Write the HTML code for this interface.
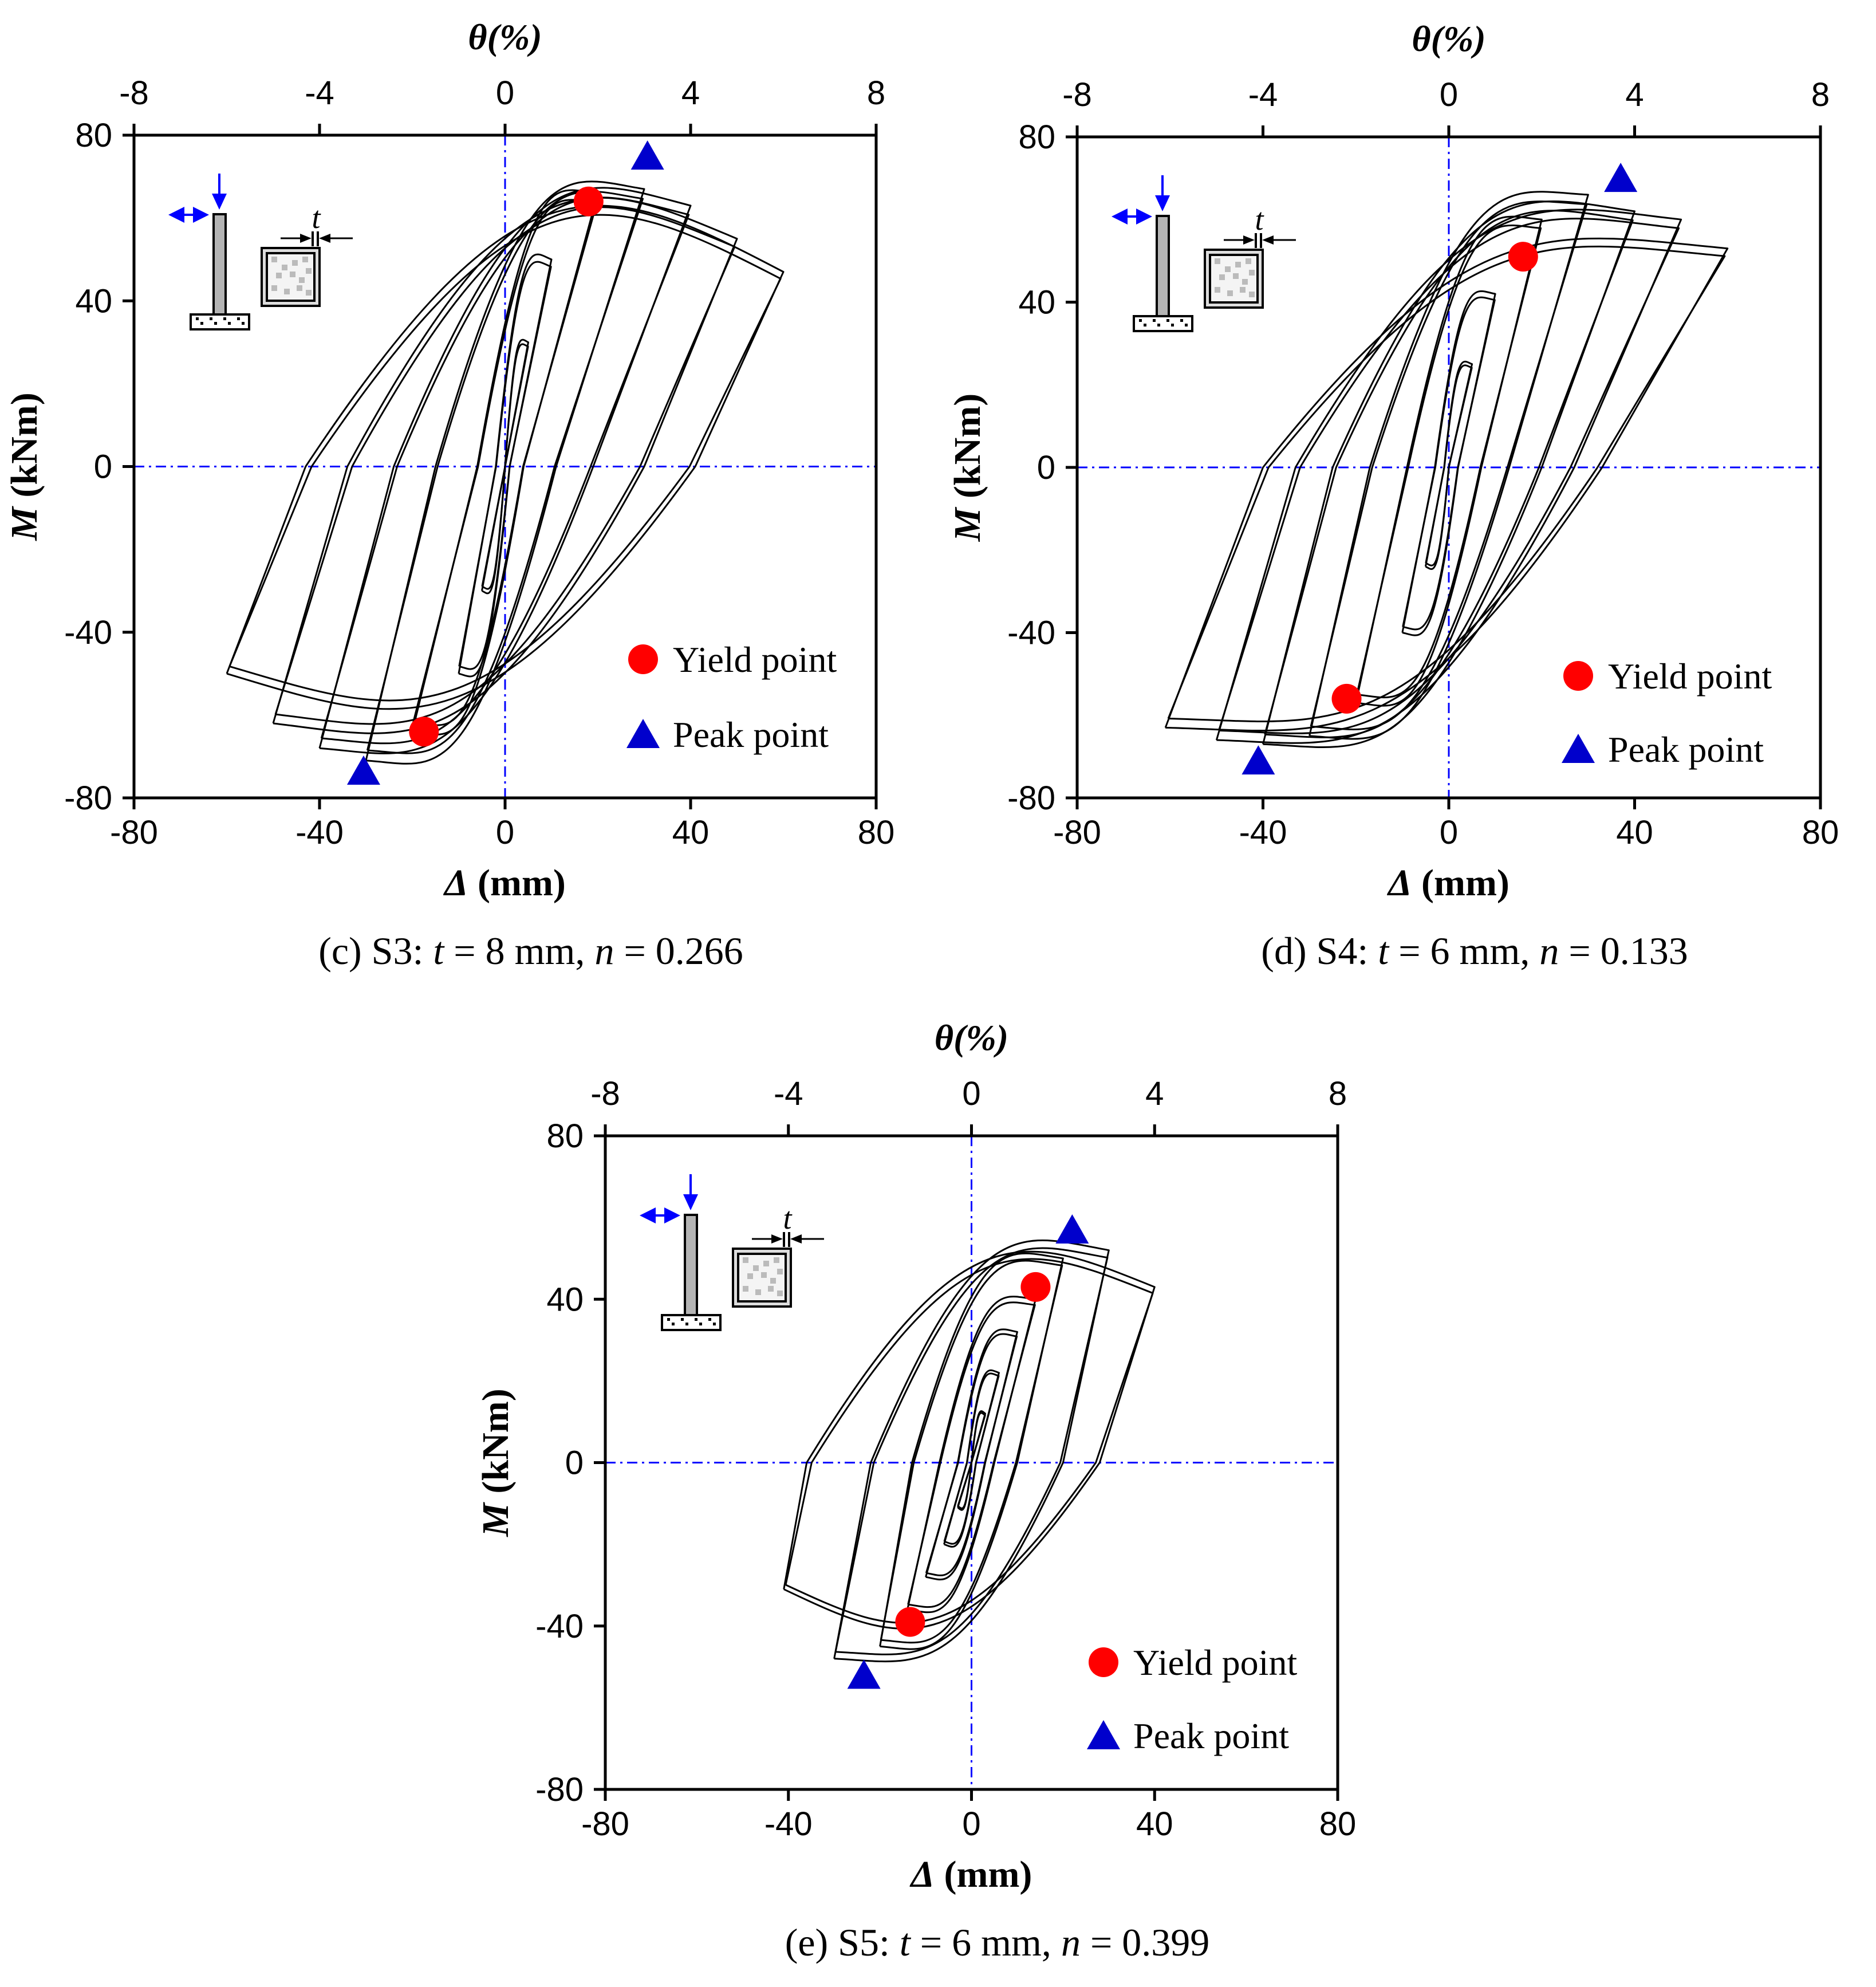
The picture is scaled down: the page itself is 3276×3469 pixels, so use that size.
<!DOCTYPE html>
<html><head><meta charset="utf-8">
<style>
html,body{margin:0;padding:0;background:#fff;}
svg{display:block;}
</style></head>
<body>
<svg id="fig" xmlns="http://www.w3.org/2000/svg" width="3276" height="3469" viewBox="0 0 3276 3469">
<rect x="0" y="0" width="3276" height="3469" fill="#fff"/>
</svg>
<script>
// ---------- data: panel c (S3) ----------
const cPosAmp=[60,50,40,30,20,10,5];
const cPosEndM=[47,55,63,67,66,50,30];
const cPosPlat=[70,70,70,70,67,52,31];
const cPosZero=[41,30,19,11,4,1,0];
const cNegAmp=[-60,-50,-40,-30,-20,-10,-5];
const cNegEndM=[-50,-62,-68,-71,-64,-50,-30];
const cNegPlat=[-63,-66,-70,-72,-65,-51,-31];
const cNegZero=[-43,-34,-24,-15,-6,-2,0];
const cYield=[[18,64],[-17.5,-64]];
const cPeak=[[30.7,75],[-30.5,-73.5]];
// ---------- data: panel d (S4) ----------
const dPosAmp=[60,50,40,30,20,10,5];
const dPosEndM=[53,60,62,66,60,42,25];
const dPosPlat=[57,64,66,67,61,43,26];
const dPosZero=[33,27,20,13,7,2,0];
const dNegAmp=[-61,-50,-40,-30,-20,-10,-5];
const dNegEndM=[-63,-66,-67,-65,-57,-40,-24];
const dNegPlat=[-64,-67,-68,-66,-58,-41,-25];
const dNegZero=[-40,-33,-25,-17,-9,-3,-1];
const dYield=[[16,51],[-22,-56]];
const dPeak=[[37,70],[-41,-71]];
// ---------- data: panel e (S5) ----------
const ePosAmp=[40,30,20,14,10,6,3];
const ePosEndM=[43,52,50,40,32,22,12];
const ePosPlat=[56,56,52,41,33,23,13];
const ePosZero=[28,20,10,5,3,1,0];
const eNegAmp=[-41,-30,-20,-14,-10,-6,-3];
const eNegEndM=[-31,-48,-45,-36,-28,-20,-11];
const eNegPlat=[-45,-49,-46,-37,-29,-21,-12];
const eNegZero=[-36,-22,-13,-7,-3,-1,0];
const eYield=[[14,43],[-13.4,-39]];
const ePeak=[[22,57],[-23.5,-52]];
// ---------- tick labels ----------
const xTicks=[-80,-40,0,40,80];
const yTicks=[80,40,0,-40,-80];
const thetaTicks=[-8,-4,0,4,8];

const NS='http://www.w3.org/2000/svg';
const svg=document.getElementById('fig');
function el(tag,attrs,parent){const e=document.createElementNS(NS,tag);for(const k in attrs)e.setAttribute(k,attrs[k]);(parent||svg).appendChild(e);return e;}

const panels=[
 {id:'c',L:234,T:236,R:1530,B:1393,
  posAmp:cPosAmp,posEndM:cPosEndM,posPlat:cPosPlat,posZero:cPosZero,
  negAmp:cNegAmp,negEndM:cNegEndM,negPlat:cNegPlat,negZero:cNegZero,
  yld:cYield,pk:cPeak,leg:[1123,1151,1282],caption:['(c) S3: ','t',' = 8 mm, ','n',' = 0.266']},
 {id:'d',L:1881,T:239,R:3179,B:1393,
  posAmp:dPosAmp,posEndM:dPosEndM,posPlat:dPosPlat,posZero:dPosZero,
  negAmp:dNegAmp,negEndM:dNegEndM,negPlat:dNegPlat,negZero:dNegZero,
  yld:dYield,pk:dPeak,leg:[2756,1180,1308],caption:['(d) S4: ','t',' = 6 mm, ','n',' = 0.133']},
 {id:'e',L:1057,T:1983,R:2336,B:3124,
  posAmp:ePosAmp,posEndM:ePosEndM,posPlat:ePosPlat,posZero:ePosZero,
  negAmp:eNegAmp,negEndM:eNegEndM,negPlat:eNegPlat,negZero:eNegZero,
  yld:eYield,pk:ePeak,leg:[1927,2902,3030],caption:['(e) S5: ','t',' = 6 mm, ','n',' = 0.399']}
];

panels.forEach(p=>{
 const W=p.R-p.L,H=p.B-p.T;
 const sx=d=>p.L+(d+80)/160*W;
 const sy=m=>p.T+(80-m)/160*H;
 const g=el('g',{});
 
 

 // dash-dot zero lines
 const zx=el('line',{x1:sx(0),y1:p.T,x2:sx(0),y2:p.B,stroke:'#0000ff','stroke-width':3,'stroke-dasharray':'18 8 4 8'},g);
 
 
 const zy=el('line',{x1:p.L,y1:sy(0),x2:p.R,y2:sy(0),stroke:'#0000ff','stroke-width':3,'stroke-dasharray':'18 8 4 8'},g);
 
 

 // hysteresis loops
 const curves=el('g',{fill:'none',stroke:'#000','stroke-width':3,'stroke-linejoin':'round'},g);
 
 
 for(let i=0;i<p.posAmp.length;i++){
  for(let r=0;r<2;r++){
   const f=r===0?1:0.965;
   const dp=p.posAmp[i]*(r?0.99:1), mp=p.posEndM[i]*f, Pp=p.posPlat[i]*f, zp=p.posZero[i]*(r?0.97:1);
   const dn=p.negAmp[i]*(r?0.99:1), mn=p.negEndM[i]*f, Pn=p.negPlat[i]*f, zn=p.negZero[i]*(r?0.97:1);
   const R1=dp-zn, R2=dn-zp;
   const dd=['M',sx(dn),sy(mn),'L',sx(zn),sy(0),
    'C',sx(zn+0.45*R1),sy(1.12*Pp),sx(zn+0.62*R1),sy(Pp),sx(dp),sy(mp),
    'L',sx(zp),sy(0),
    'C',sx(zp+0.45*R2),sy(1.12*Pn),sx(zp+0.62*R2),sy(Pn),sx(dn),sy(mn)].join(' ');
   const path=el('path',{d:dd},curves);
   
   
  }
 }

 // axes box
 const box=el('rect',{x:p.L,y:p.T,width:W,height:H,fill:'none',stroke:'#000','stroke-width':5},g);
 
 

 // ticks and labels
 xTicks.forEach(v=>{
  const t=el('line',{x1:sx(v),y1:p.B,x2:sx(v),y2:p.B+20,stroke:'#000','stroke-width':5},g);
  
  
  const tx=el('text',{x:sx(v),y:p.B+80,'text-anchor':'middle','font-family':'Liberation Sans, sans-serif','font-size':58},g);
  tx.textContent=v;
  
  
 });
 yTicks.forEach(v=>{
  const t=el('line',{x1:p.L-20,y1:sy(v),x2:p.L,y2:sy(v),stroke:'#000','stroke-width':5},g);
  
  
  const tx=el('text',{x:p.L-38,y:sy(v)+20,'text-anchor':'end','font-family':'Liberation Sans, sans-serif','font-size':58},g);
  tx.textContent=v;
  
  
 });
 thetaTicks.forEach(v=>{
  const x=sx(v*10);
  const t=el('line',{x1:x,y1:p.T-20,x2:x,y2:p.T,stroke:'#000','stroke-width':5},g);
  
  
  const tx=el('text',{x:x,y:p.T-54,'text-anchor':'middle','font-family':'Liberation Sans, sans-serif','font-size':58},g);
  tx.textContent=v;
  
  
 });

 // axis titles
 const th=el('text',{x:sx(0),y:p.T-150,'text-anchor':'middle','font-family':'Liberation Serif, serif','font-size':64,'font-weight':'bold','font-style':'italic'},g);
 th.textContent='θ(%)';
 
 
 const xt=el('text',{x:sx(0),y:p.B+170,'text-anchor':'middle','font-family':'Liberation Serif, serif','font-size':66,'font-weight':'bold'},g);
 const xi=el('tspan',{'font-style':'italic'},xt); xi.textContent='Δ';
 const xr=el('tspan',{},xt); xr.textContent=' (mm)';
 
 
 const yx=p.L-170, yy=sy(0);
 const yt=el('text',{x:yx,y:yy,'text-anchor':'middle','font-family':'Liberation Serif, serif','font-size':66,'font-weight':'bold',transform:`rotate(-90 ${yx} ${yy})`},g);
 const yi=el('tspan',{'font-style':'italic'},yt); yi.textContent='M';
 const yr=el('tspan',{},yt); yr.textContent=' (kNm)';
 
 

 // caption
 const cap=el('text',{x:sx(0)+45,y:p.B+290,'text-anchor':'middle','font-family':'Liberation Serif, serif','font-size':68},g);
 p.caption.forEach((s,k)=>{const ts=el('tspan',(k===1||k===3)?{'font-style':'italic'}:{},cap);ts.textContent=s;});
 
 

 // markers
 p.yld.forEach(pt=>{
  const c=el('circle',{cx:sx(pt[0]),cy:sy(pt[1]),r:26,fill:'#ff0000'},g);
  
  
 });
 p.pk.forEach(pt=>{
  const x=sx(pt[0]),y=sy(pt[1]);
  const tr=el('polygon',{points:`${x-29},${y+24} ${x+29},${y+24} ${x},${y-27}`,fill:'#0000cc'},g);
  
  
 });

 // legend
 const lg=el('g',{},g);
 
 
 const [lx,ly1,ly2]=p.leg;
 const lc=el('circle',{cx:lx,cy:ly1,r:26,fill:'#ff0000'},lg);
 
 
 const lt1=el('text',{x:lx+52,y:ly1+22,'font-family':'Liberation Serif, serif','font-size':64},lg);
 lt1.textContent='Yield point';
 
 
 const lp=el('polygon',{points:`${lx-29},${ly2+24} ${lx+29},${ly2+24} ${lx},${ly2-27}`,fill:'#0000cc'},lg);
 
 
 const lt2=el('text',{x:lx+52,y:ly2+22,'font-family':'Liberation Serif, serif','font-size':64},lg);
 lt2.textContent='Peak point';
 
 

 // specimen inset icon
 const ox=p.L, oy=p.T;
 const ic=el('g',{transform:`translate(${ox},${oy})`},g);
 
 
 el('rect',{x:139,y:138,width:21,height:175,fill:'#b4b4b4',stroke:'#000','stroke-width':4},ic);
 el('rect',{x:99,y:313,width:102,height:26,fill:'#fff',stroke:'#000','stroke-width':4},ic);
 for(let k=0;k<4;k++){el('rect',{x:108+k*24,y:318,width:5,height:5,fill:'#000'},ic);el('rect',{x:116+k*24,y:326,width:5,height:5,fill:'#000'},ic);}
 el('line',{x1:75,y1:139,x2:115,y2:139,stroke:'#0000ff','stroke-width':4},ic);
 el('polygon',{points:'60,139 88,125 88,153',fill:'#0000ff'},ic);
 el('polygon',{points:'131,139 103,125 103,153',fill:'#0000ff'},ic);
 el('line',{x1:149,y1:67,x2:149,y2:105,stroke:'#0000ff','stroke-width':4},ic);
 el('polygon',{points:'136,102 162,102 149,130',fill:'#0000ff'},ic);
 el('rect',{x:223,y:197,width:101,height:101,fill:'#ddd',stroke:'#000','stroke-width':4},ic);
 el('rect',{x:232,y:206,width:83,height:83,fill:'#f4f4f4',stroke:'#000','stroke-width':4},ic);
 [[240,212],[258,226],[276,218],[294,212],[300,232],[248,240],[272,238],[288,248],[240,262],[262,268],[284,262],[300,270]].forEach(q=>el('rect',{x:q[0],y:q[1],width:10,height:10,fill:'#bbb'},ic));
 el('line',{x1:256,y1:180,x2:300,y2:180,stroke:'#000','stroke-width':3},ic);
 el('polygon',{points:'290,172 310,180 290,188',fill:'#000'},ic);
 el('line',{x1:312,y1:168,x2:312,y2:194,stroke:'#000','stroke-width':4},ic);
 el('line',{x1:321,y1:168,x2:321,y2:194,stroke:'#000','stroke-width':4},ic);
 el('polygon',{points:'343,172 323,180 343,188',fill:'#000'},ic);
 el('line',{x1:335,y1:180,x2:382,y2:180,stroke:'#000','stroke-width':3},ic);
 const tt=el('text',{x:318,y:162,'text-anchor':'middle','font-family':'Liberation Serif, serif','font-size':54,'font-style':'italic'},ic);
 tt.textContent='t';
 
 
});
</script>
</body></html>
